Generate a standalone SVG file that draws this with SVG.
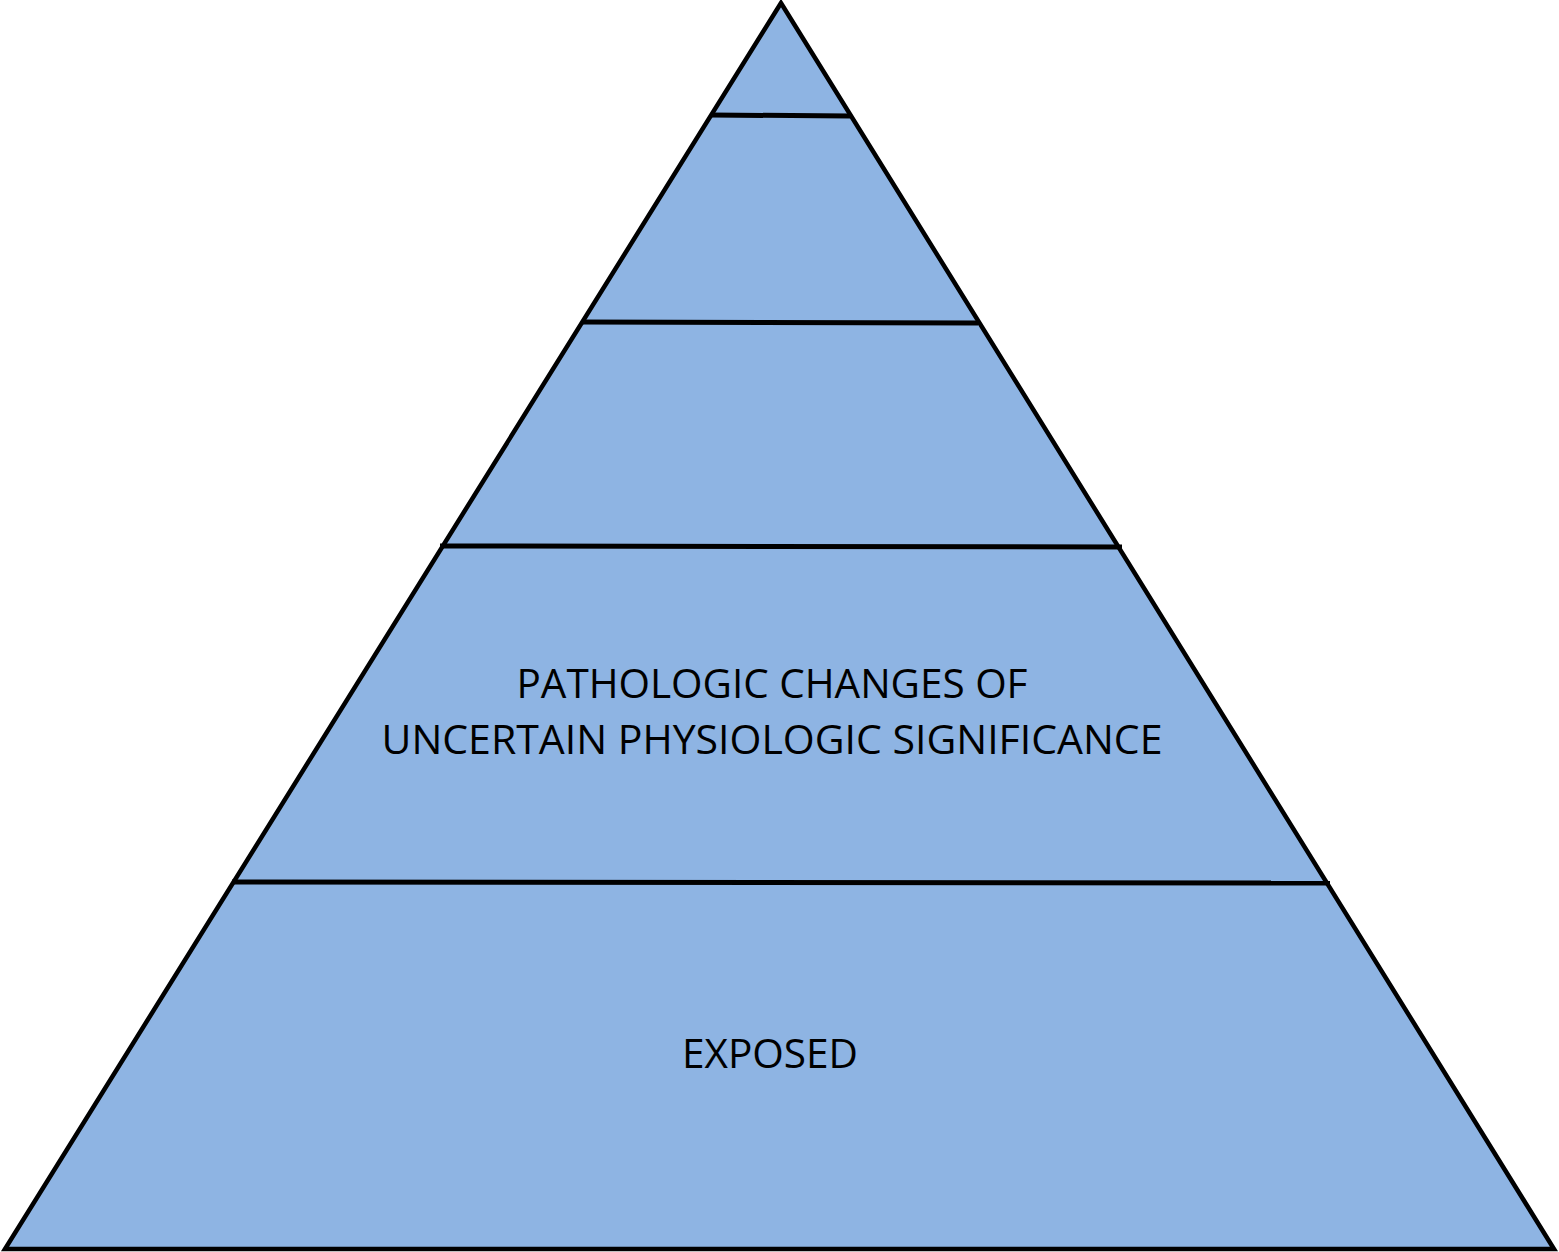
<svg xmlns="http://www.w3.org/2000/svg" width="1559" height="1252" viewBox="0 0 1559 1252">
  <style>
    .tier { fill: #8EB4E3; stroke: none; }
    .edge { fill: none; stroke: #000; stroke-width: 4.5; stroke-linejoin: miter; }
    .rule { stroke: #000; stroke-width: 5; }
    .label { font-family: "Open Sans", "Noto Sans", "Liberation Sans", sans-serif; font-size: 40px; fill: #000; text-anchor: middle; }
  </style>
  <rect width="1559" height="1252" fill="#fff"/>
  <!-- pyramid body -->
  <g id="pyramid">
    <polygon class="tier" points="781,3 5,1249 1554,1249"/>
  </g>
  <!-- tier dividers -->
  <g id="dividers">
    <line class="rule" x1="711" y1="115" x2="850" y2="116"/>
    <line class="rule" x1="582" y1="322" x2="978" y2="323"/>
    <line class="rule" x1="440" y1="546" x2="1122" y2="547"/>
    <line class="rule" x1="232" y1="882" x2="1330" y2="883"/>
  </g>
  <g id="outline">
    <polygon class="edge" points="781,3 5,1249 1554,1249"/>
  </g>
  <g id="tier-pathologic">
    <text class="label" x="772" y="698" textLength="511" lengthAdjust="spacingAndGlyphs">PATHOLOGIC CHANGES OF</text>
    <text class="label" x="772" y="754" textLength="781" lengthAdjust="spacingAndGlyphs">UNCERTAIN PHYSIOLOGIC SIGNIFICANCE</text>
  </g>
  <g id="tier-exposed">
    <text class="label" x="770" y="1068" textLength="176" lengthAdjust="spacingAndGlyphs">EXPOSED</text>
  </g>
</svg>
